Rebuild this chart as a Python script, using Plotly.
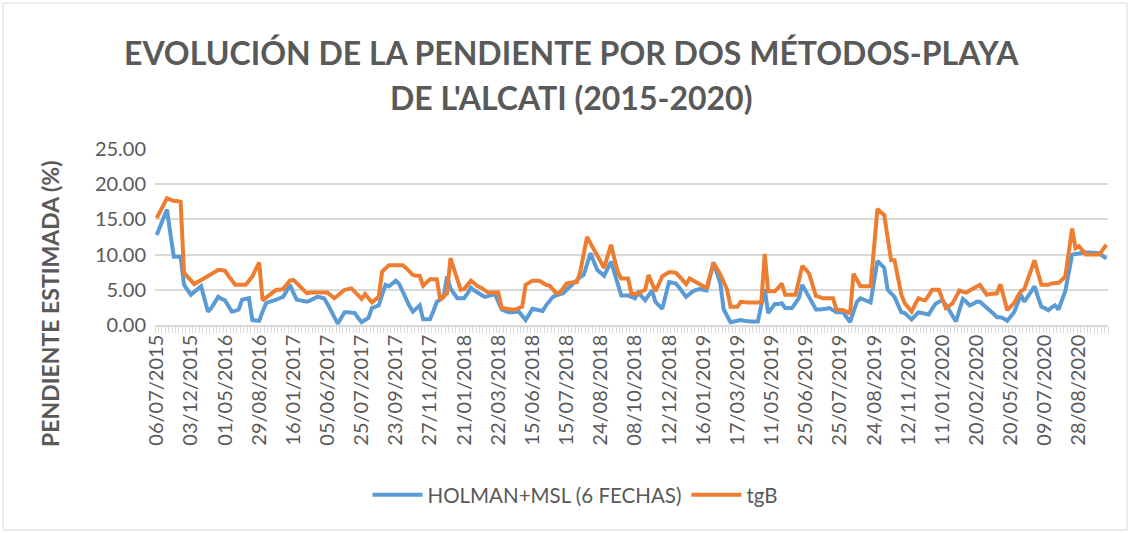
import plotly.graph_objects as go

# Category tick labels (every 10th sample is labelled in the original)
tick_labels = ["06/07/2015", "03/12/2015", "01/05/2016", "29/08/2016", "16/01/2017",
               "05/06/2017", "25/07/2017", "23/09/2017", "27/11/2017", "21/01/2018",
               "22/03/2018", "15/06/2018", "15/07/2018", "24/08/2018", "08/10/2018",
               "12/12/2018", "16/01/2019", "17/03/2019", "11/05/2019", "25/06/2019",
               "25/07/2019", "24/08/2019", "12/11/2019", "11/01/2020", "20/02/2020",
               "20/05/2020", "09/07/2020", "28/08/2020"]
label_step = 10

holman_msl = [
    12.8, 14.0, 15.2, 16.4, 13.0, 9.7, 9.7, 9.7, 5.7, 5.0,
    4.3, 4.7, 5.1, 5.5, 3.7, 1.9, 2.4, 3.2, 4.0, 3.7,
    3.5, 2.7, 1.9, 2.0, 2.2, 3.6, 3.7, 3.8, 0.7, 0.6,
    0.6, 1.9, 3.1, 3.3, 3.4, 3.6, 3.8, 4.0, 4.8, 5.7,
    4.6, 3.6, 3.5, 3.4, 3.3, 3.5, 3.8, 4.0, 3.9, 3.8,
    3.0, 2.1, 1.1, 0.2, 1.0, 1.8, 1.8, 1.7, 1.7, 1.0,
    0.4, 0.7, 1.0, 2.4, 2.6, 2.8, 4.3, 5.7, 5.5, 5.9,
    6.3, 5.8, 4.7, 3.6, 2.7, 1.9, 2.3, 2.8, 0.8, 0.8,
    0.8, 2.0, 3.3, 3.6, 4.0, 6.9, 5.2, 4.5, 3.8, 3.8,
    3.8, 4.5, 5.3, 4.9, 4.6, 4.3, 4.0, 4.1, 4.3, 4.4,
    3.3, 2.2, 2.0, 1.8, 1.8, 1.9, 1.9, 1.3, 0.7, 1.5,
    2.3, 2.2, 2.1, 2.0, 2.8, 3.4, 4.0, 4.2, 4.3, 4.5,
    5.0, 5.5, 6.0, 6.4, 6.8, 7.1, 8.7, 10.2, 9.0, 7.8,
    7.4, 7.0, 8.0, 9.0, 7.4, 5.8, 4.2, 4.2, 4.2, 4.0,
    3.8, 4.6, 4.0, 3.5, 4.2, 4.9, 3.3, 2.8, 2.3, 4.2,
    6.1, 6.0, 5.9, 5.3, 4.6, 4.0, 4.4, 4.8, 5.0, 5.1,
    5.0, 4.9, 6.9, 8.9, 7.4, 5.9, 2.2, 1.3, 0.4, 0.5,
    0.6, 0.7, 0.6, 0.5, 0.5, 0.5, 0.5, 2.8, 5.1, 1.7,
    2.4, 3.0, 3.0, 3.1, 2.4, 2.4, 2.4, 3.1, 3.8, 5.7,
    4.8, 3.8, 3.0, 2.2, 2.2, 2.2, 2.3, 2.4, 2.1, 1.8,
    1.8, 1.8, 1.1, 0.4, 1.9, 3.3, 3.8, 3.6, 3.4, 3.2,
    6.2, 9.1, 8.6, 8.1, 5.0, 4.5, 4.0, 2.9, 1.8, 1.7,
    1.3, 0.8, 1.3, 1.8, 1.7, 1.6, 1.5, 2.3, 3.0, 3.3,
    3.5, 2.9, 2.2, 1.3, 0.5, 2.1, 3.7, 3.3, 2.8, 3.0,
    3.3, 3.3, 2.9, 2.4, 2.0, 1.6, 1.1, 1.1, 0.9, 0.6,
    1.2, 1.8, 3.0, 4.3, 3.3, 4.0, 4.8, 5.5, 4.0, 2.6,
    2.4, 2.1, 2.5, 2.8, 2.2, 3.5, 4.8, 7.4, 10.0, 10.1,
    10.2, 10.3, 10.3, 10.3, 10.3, 10.3, 10.2, 9.8, 9.4,
]

tgb = [
    15.2, 16.1, 17.1, 18.0, 17.8, 17.6, 17.6, 17.5, 7.4, 6.8,
    6.2, 5.8, 6.1, 6.4, 6.7, 6.9, 7.2, 7.5, 7.8, 7.8,
    7.7, 7.0, 6.4, 5.7, 5.7, 5.7, 5.7, 6.3, 6.9, 7.9,
    8.9, 3.5, 3.9, 4.3, 4.7, 5.0, 5.0, 5.1, 5.7, 6.3,
    6.4, 5.9, 5.4, 4.9, 4.5, 4.6, 4.6, 4.6, 4.6, 4.6,
    4.6, 4.2, 3.8, 4.2, 4.6, 5.0, 5.1, 5.2, 4.7, 4.2,
    3.7, 4.4, 3.8, 3.2, 3.6, 4.0, 7.6, 8.1, 8.5, 8.5,
    8.5, 8.5, 8.5, 8.1, 7.6, 7.1, 7.0, 7.0, 5.6, 6.0,
    6.5, 6.5, 6.5, 3.6, 4.0, 4.5, 9.5, 8.0, 6.4, 5.0,
    5.1, 5.7, 6.3, 5.9, 5.5, 5.3, 4.9, 4.6, 4.6, 4.6,
    4.6, 2.4, 2.3, 2.2, 2.2, 2.2, 2.4, 2.6, 5.7, 6.0,
    6.3, 6.3, 6.3, 6.0, 5.7, 5.6, 5.0, 4.5, 4.6, 5.2,
    5.9, 6.0, 6.0, 6.1, 7.6, 10.0, 12.5, 11.6, 10.7, 9.8,
    9.0, 8.1, 9.8, 11.4, 9.4, 7.5, 6.6, 6.6, 6.6, 4.4,
    4.4, 4.5, 4.8, 5.0, 7.1, 6.0, 4.8, 5.8, 6.9, 7.2,
    7.5, 7.5, 7.4, 6.9, 6.3, 5.8, 6.6, 6.3, 6.0, 5.7,
    5.5, 5.3, 7.0, 8.8, 8.0, 7.2, 6.1, 5.0, 2.6, 2.6,
    2.6, 3.3, 3.2, 3.2, 3.2, 3.2, 3.2, 3.2, 10.1, 4.8,
    4.8, 4.8, 5.3, 5.9, 4.3, 4.3, 4.3, 4.3, 6.3, 8.4,
    7.9, 7.3, 5.7, 4.1, 4.0, 3.8, 3.8, 3.8, 3.8, 2.2,
    2.2, 2.1, 1.9, 1.7, 7.3, 6.4, 5.5, 5.5, 5.5, 5.5,
    11.0, 16.5, 16.0, 15.6, 12.4, 9.2, 9.2, 6.8, 4.3, 3.1,
    2.5, 1.9, 2.9, 3.8, 3.6, 3.5, 4.2, 5.0, 5.0, 5.0,
    3.7, 2.4, 2.7, 3.1, 4.0, 4.9, 4.7, 4.6, 4.9, 5.2,
    5.4, 5.7, 5.0, 4.3, 4.4, 4.5, 4.5, 5.8, 4.0, 2.1,
    2.6, 3.1, 4.0, 4.8, 5.1, 6.5, 7.8, 9.2, 7.4, 5.7,
    5.7, 5.7, 5.9, 6.0, 6.0, 6.4, 6.9, 10.3, 13.7, 10.9,
    11.2, 10.6, 10.0, 10.0, 10.0, 10.0, 10.0, 10.7, 11.4,
]

series_names = ["HOLMAN+MSL (6 FECHAS)", "tgB"]
colors = ["#5B9BD5", "#ED7D31"]
y_ticks = [0, 5, 10, 15, 20, 25]

n = len(tgb)
x = list(range(n))

W, H = 1130, 533
ML, MR, MT, MB = 155, 22, 149, 208
pw, ph = W - ML - MR, H - MT - MB

def px_x(p):
    return (p - ML) / pw

def px_y(p):
    return (H - MB - p) / ph

FONT = "Lato, 'Open Sans', sans-serif"
GRAY = "#595959"

fig = go.Figure()
for name, vals, col in zip(series_names, [holman_msl, tgb], colors):
    fig.add_trace(go.Scatter(x=x, y=vals, mode="lines", name=name,
                             line=dict(color=col, width=4, shape="linear"),
                             hoverinfo="x+y"))

fig.update_layout(
    width=W, height=H,
    margin=dict(l=ML, r=MR, t=MT, b=MB, autoexpand=False),
    paper_bgcolor="white", plot_bgcolor="white",
    font=dict(family=FONT, color=GRAY, size=20),
    showlegend=True,
    legend=dict(orientation="h", x=px_x(575), y=px_y(495), xanchor="center",
                yanchor="middle", font=dict(size=20.5, color=GRAY),
                itemwidth=50, tracegroupgap=0),
    xaxis=dict(
        range=[-0.5, n - 0.5],
        automargin=False,
        tickmode="array",
        tickvals=list(range(0, n, label_step))[:len(tick_labels)],
        ticktext=tick_labels,
        tickangle=-90,
        ticks="",
        showgrid=False,
        showline=True, linecolor="#D9D9D9", linewidth=1.5,
        zeroline=False,
        tickfont=dict(size=20, color=GRAY),
        minor=dict(tickmode="array", tickvals=[i - 0.5 for i in range(n + 1)],
                   ticks="outside", ticklen=6, tickcolor="#D9D9D9", tickwidth=1,
                   showgrid=False),
    ),
    yaxis=dict(
        range=[0, 25],
        automargin=False,
        tickmode="array",
        tickvals=y_ticks,
        ticktext=[f"{v:.2f}" for v in y_ticks],
        showgrid=True, gridcolor="#D9D9D9", gridwidth=1.5,
        zeroline=False, showline=False, ticks="",
        tickfont=dict(size=20, color=GRAY),
        ticklabelstandoff=8,
    ),
    annotations=[
        dict(text="<b>EVOLUCIÓN DE LA PENDIENTE POR DOS MÉTODOS-PLAYA</b>",
             xref="paper", yref="paper", x=px_x(571), y=px_y(52),
             xanchor="center", yanchor="middle", showarrow=False,
             font=dict(size=32, color=GRAY, family=FONT)),
        dict(text="<b>DE L'ALCATI (2015-2020)</b>",
             xref="paper", yref="paper", x=px_x(571), y=px_y(97),
             xanchor="center", yanchor="middle", showarrow=False,
             font=dict(size=32, color=GRAY, family=FONT)),
        dict(text="<b>PENDIENTE ESTIMADA (%)</b>",
             xref="paper", yref="paper", x=px_x(50), y=px_y(304),
             xanchor="center", yanchor="middle", showarrow=False, textangle=-90,
             font=dict(size=23, color=GRAY, family=FONT)),
    ],
    shapes=[
        dict(type="rect", xref="paper", yref="paper",
             x0=px_x(3), x1=px_x(W - 3), y0=px_y(H - 3), y1=px_y(3),
             line=dict(color="#D9D9D9", width=1), layer="below"),
    ],
)

fig.write_html("out.html",
               config={"displayModeBar": False},
               post_script="document.body.style.margin='0';document.body.style.overflow='hidden';")
